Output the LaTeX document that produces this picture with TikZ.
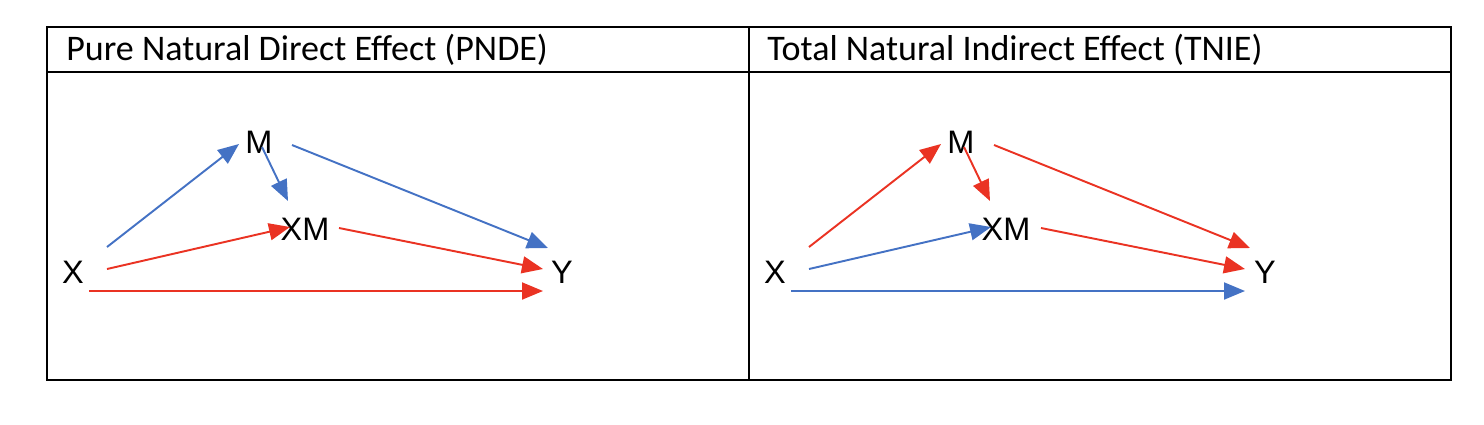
\documentclass[tikz,border=0pt]{standalone}
\usepackage{fontspec}
\setmainfont{Carlito}
\newfontfamily\letterfont{Liberation Sans}
\usetikzlibrary{arrows.meta}
\usetikzlibrary{positioning}
\definecolor{effblue}{HTML}{4472C4}
\definecolor{effred}{HTML}{EA3323}
\tikzset{
  var/.style={inner sep=0pt,font=\letterfont\fontsize{18.5}{18.5}\selectfont},
  head/.style={inner sep=0pt,anchor=base west,font=\fontsize{20.5}{22}\selectfont},
  path blue/.style={draw=effblue,line width=1.1pt,-{Triangle[length=0.42cm,width=0.34cm]}},
  path red/.style={draw=effred,line width=1.1pt,-{Triangle[length=0.42cm,width=0.34cm]}}
}
\begin{document}
\begin{tikzpicture}[x=0.02cm,y=-0.02cm]
  \useasboundingbox (0,0) rectangle (1484,424);
  \draw[line width=1.1pt](47,27) rectangle (1451,380);
  \draw[line width=1.1pt](47,72) -- (1451,72);
  \draw[line width=1.1pt](749,27) -- (749,380);

  \node[head] (h1) at (66,60) {Pure Natural Direct Effect (PNDE)};
  \node[head] (h2) at (767,60) {Total Natural Indirect Effect (TNIE)};

  % left: PNDE
  \node[var] (X1) at (73,272) {X};
  \node[var] (M1) at (259,142) {M};
  \node[var] (XM1) at (305,229) {XM};
  \node[var] (Y1) at (562,272) {Y};
  \draw[path blue]([shift={(34,-25)}]X1.center) -- ([shift={(-20,2)}]M1.center);
  \draw[path blue]([shift={(3,5)}]M1.center) -- ([shift={(-17,-28)}]XM1.center);
  \draw[path blue]([shift={(33,3)}]M1.center) -- ([shift={(-14,-24)}]Y1.center);
  \draw[path red]([shift={(34,-3)}]X1.center) -- ([shift={(-15,-2)}]XM1.center);
  \draw[path red]([shift={(34,-1)}]XM1.center) -- ([shift={(-19,-3)}]Y1.center);
  \draw[path red]([shift={(16,19)}]X1.center) -- ([shift={(-19,19)}]Y1.center);

  % right: TNIE
  \node[var] (X2) at (775,272) {X};
  \node[var] (M2) at (961,142) {M};
  \node[var] (XM2) at (1006,229) {XM};
  \node[var] (Y2) at (1265,272) {Y};
  \draw[path red]([shift={(34,-25)}]X2.center) -- ([shift={(-20,2)}]M2.center);
  \draw[path red]([shift={(3,5)}]M2.center) -- ([shift={(-16,-28)}]XM2.center);
  \draw[path red]([shift={(33,3)}]M2.center) -- ([shift={(-15,-24)}]Y2.center);
  \draw[path blue]([shift={(34,-3)}]X2.center) -- ([shift={(-15,-2)}]XM2.center);
  \draw[path red]([shift={(35,-1)}]XM2.center) -- ([shift={(-20,-3)}]Y2.center);
  \draw[path blue]([shift={(16,19)}]X2.center) -- ([shift={(-20,19)}]Y2.center);
\end{tikzpicture}
\end{document}
